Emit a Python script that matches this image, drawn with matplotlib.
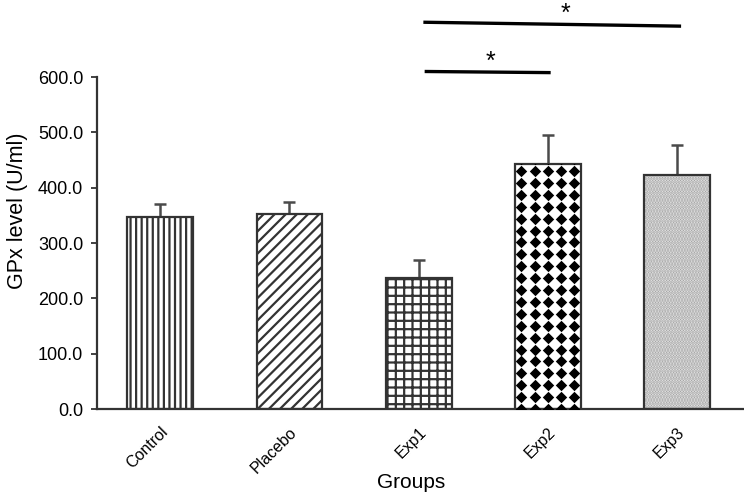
import numpy as np
import matplotlib
matplotlib.use("Agg")
import matplotlib.pyplot as plt

plt.rcParams['font.family'] = ['Liberation Sans', 'DejaVu Sans']
plt.rcParams['hatch.linewidth'] = 1.6

groups = ['Control', 'Placebo', 'Exp1', 'Exp2', 'Exp3']
means = [347, 353, 237, 443, 423]
errs = [24, 21, 32, 52, 54]
hatches = ['|||', '///', '++', '', '......']
yticks = [0, 100, 200, 300, 400, 500, 600]
# significance lines: x start, x end, level left, level right, star x
sig = [(2.05, 4.02, 699, 692, 3.14), (2.06, 3.01, 610, 608, 2.56)]

fig = plt.figure(figsize=(7.44, 4.97), dpi=100)
ax = fig.add_axes([0.1304, 0.177, 0.8696, 0.668])

x = np.arange(len(groups))
w = 0.51
bars = ax.bar(x, means, width=w, color='white', edgecolor='#333333',
              linewidth=1.6, hatch=hatches, zorder=2)
bars[4].set_facecolor('#f2f2f2')
bars[4]._hatch_color = matplotlib.colors.to_rgba('#a0a0a0')

ax.errorbar(x, means, yerr=[np.zeros(len(errs)), errs], fmt='none',
            ecolor='#4a4a4a', elinewidth=1.8, capsize=4, capthick=1.8, zorder=1)

# diamond pattern for Exp2
b = bars[3]
bx0, bw, bh = b.get_x(), b.get_width(), b.get_height()
dx = bw / 5
xs = bx0 + dx / 2 + dx * np.arange(5)
ys = np.arange(0, bh + 10, 21.5)
gx, gy = np.meshgrid(xs, ys)
pts = ax.scatter(gx.ravel(), gy.ravel(), marker='D', s=34, color='black',
                 linewidths=0, zorder=3)
pts.set_clip_path(b)

for x0, x1, l0, l1, sx in sig:
    ax.plot([x0, x1], [l0, l1], color='black', lw=2.4, clip_on=False)
    ax.text(sx, (l0 + l1) / 2 + 6, '*', ha='center', va='baseline',
            fontsize=18, clip_on=False)

ax.set_xlim(-0.49, 4.52)
ax.set_ylim(0, 600)
ax.set_yticks(yticks)
ax.set_yticklabels([f'{v:.1f}' for v in yticks], fontsize=13)
ax.set_xticks(x)
ax.set_xticklabels(groups, rotation=45, ha='right', rotation_mode='anchor',
                   fontsize=11.5)
ax.tick_params(axis='x', length=0, pad=11)
ax.tick_params(axis='y', length=4, width=1.3, color='#333333', pad=6)
for s in ['top', 'right']:
    ax.spines[s].set_visible(False)
for s in ['left', 'bottom']:
    ax.spines[s].set_linewidth(1.6)
    ax.spines[s].set_color('#333333')

ax.set_ylabel('GPx level (U/ml)', fontsize=15.5)
ax.yaxis.set_label_coords(-0.107, 0.596)
ax.set_xlabel('Groups', fontsize=15)
ax.xaxis.set_label_coords(0.485, -0.193)

fig.savefig('out.png', dpi=100)
